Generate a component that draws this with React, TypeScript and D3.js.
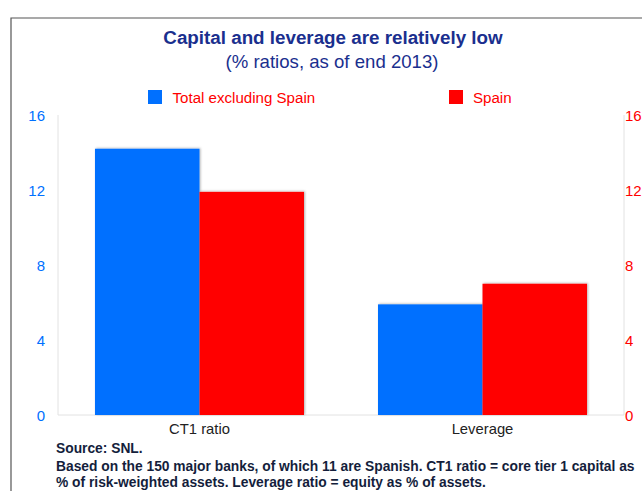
import React from "react";
import * as d3 from "d3";

const categories = ["CT1 ratio", "Leverage"];
const seriesNames = ["Total excluding Spain", "Spain"];
const totalExSpain = [14.2, 5.9];
const spain = [11.9, 7.0];
const ticks = [0, 4, 8, 12, 16];
const title = "Capital and leverage are relatively low";
const subtitle = "(% ratios, as of end 2013)";
const footnotes = [
  "Source: SNL.",
  "Based on the 150 major banks, of which 11 are Spanish. CT1 ratio = core tier 1 capital as",
  "% of risk-weighted assets. Leverage ratio = equity as % of assets.",
];

const W = 642;
const H = 491;
const left = 58;
const right = 624;
const top = 115;
const bottom = 415;
const colors = ["#0070ff", "#ff0000"];
const font = "'Liberation Sans', Arial, Helvetica, sans-serif";

export default function App() {
  const x = d3
    .scaleBand<string>()
    .domain(categories)
    .range([left, right])
    .paddingInner(0.2615)
    .paddingOuter(0.1307);
  const xs = d3.scaleBand<string>().domain(seriesNames).range([0, x.bandwidth()]);
  const y = d3.scaleLinear().domain([0, 16]).range([bottom, top]);
  const values = [totalExSpain, spain];

  return (
    <svg
      width={W}
      height={H}
      style={{ position: "absolute", left: 0, top: 0, fontFamily: font }}
    >
      <defs>
        <filter id="sh" x="-5%" y="-5%" width="110%" height="110%">
          <feDropShadow dx="1" dy="-0.5" stdDeviation="0.8" floodColor="#000" floodOpacity="0.3" />
        </filter>
      </defs>
      <rect x={0} y={0} width={W} height={H} fill="#fff" />
      {/* frame */}
      <path d={`M11,${H} L11,18 L${W},18`} fill="none" stroke="#555" strokeWidth={1.2} />
      <text x={333} y={44} textAnchor="middle" fontSize={18.8} fontWeight="bold" fill="#1a2f8e">
        {title}
      </text>
      <text x={332} y={67.5} textAnchor="middle" fontSize={18.6} fill="#1a2f8e">
        {subtitle}
      </text>
      {/* legend */}
      <rect x={148} y={90} width={14} height={14} fill={colors[0]} />
      <text x={172.5} y={102.5} fontSize={15.1} fill="#ff0000">{seriesNames[0]}</text>
      <rect x={449} y={90} width={14} height={14} fill={colors[1]} />
      <text x={473} y={102.5} fontSize={15.1} fill="#ff0000">{seriesNames[1]}</text>
      {/* axes lines */}
      <line x1={left} x2={left} y1={top} y2={bottom} stroke="#e2e2e2" />
      <line x1={right} x2={right} y1={top} y2={bottom} stroke="#e2e2e2" />
      <line x1={left} x2={right} y1={bottom} y2={bottom} stroke="#e2e2e2" />
      {ticks.map((t) => (
        <g key={t}>
          <text x={45} y={y(t) + 5.5} textAnchor="end" fontSize={15} fill="#0070ff">{t}</text>
          <text x={625} y={y(t) + 5.5} textAnchor="start" fontSize={15} fill="#ff0000">{t}</text>
        </g>
      ))}
      {/* bars */}
      {categories.map((c, i) => (
        <g key={c}>
          {seriesNames.map((s, j) => (
            <rect
              key={s}
              x={(x(c) as number) + (xs(s) as number)}
              y={y(values[j][i])}
              width={xs.bandwidth()}
              height={bottom - y(values[j][i])}
              fill={colors[j]}
              filter="url(#sh)"
            />
          ))}
          <text
            x={(x(c) as number) + x.bandwidth() / 2}
            y={433.5}
            textAnchor="middle"
            fontSize={14.8}
            fill="#222"
          >
            {c}
          </text>
        </g>
      ))}
      {/* footnotes */}
      <text x={56} y={453} fontSize={13.8} fontWeight="bold" fill="#141e3c">{footnotes[0]}</text>
      <text x={56} y={471} fontSize={13.8} fontWeight="bold" fill="#141e3c">{footnotes[1]}</text>
      <text x={56} y={487} fontSize={13.8} fontWeight="bold" fill="#141e3c">{footnotes[2]}</text>
    </svg>
  );
}
